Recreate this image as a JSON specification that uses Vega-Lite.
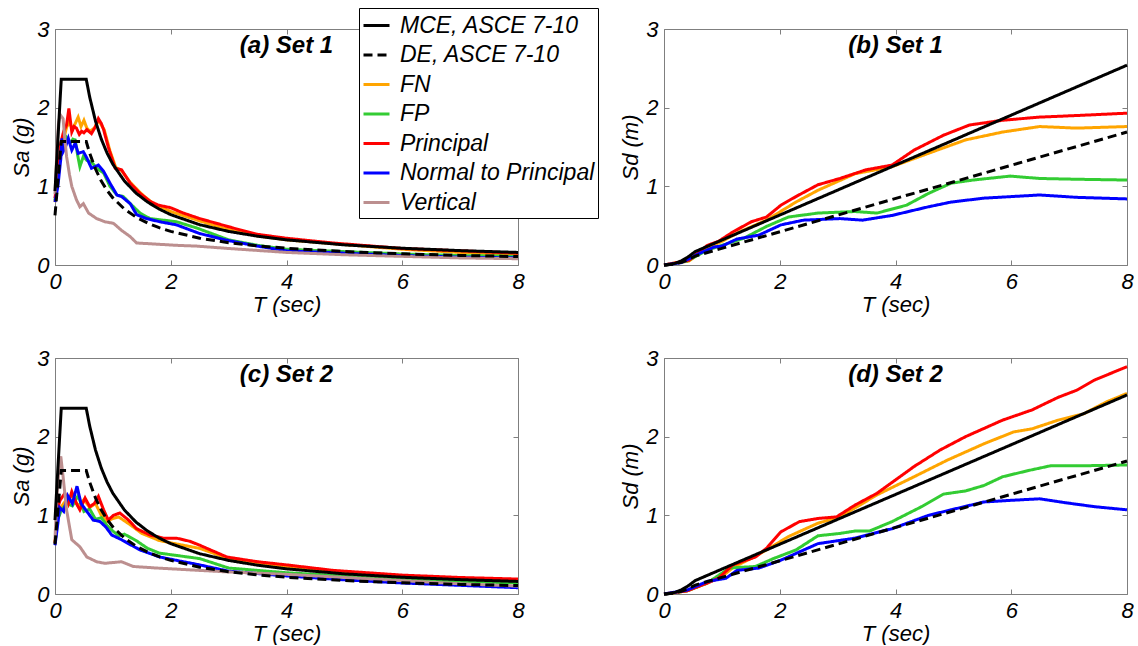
{
"$schema": "https://vega.github.io/schema/vega-lite/v6.json",
"background": "white",
"padding": {"left": 10, "top": 7, "right": 0, "bottom": 0},
"config": {
  "view": {"stroke": "#7f7f7f", "strokeWidth": 1},
  "font": "Liberation Sans",
  "axis": {"labelFont": "Liberation Sans", "labelFontSize": 22, "labelFontStyle": "italic", "labelColor": "black", "titleFont": "Liberation Sans", "titleFontSize": 22, "titleFontStyle": "italic", "titleFontWeight": "normal", "titleColor": "black", "tickColor": "#7f7f7f", "tickSize": -5, "labelPadding": 11, "grid": false, "labelFlush": false, "domain": false},
  "axisX": {"titlePadding": 2},
  "axisY": {"titlePadding": 3},
  "title": {"font": "Liberation Sans", "fontSize": 24, "fontWeight": "bold", "fontStyle": "italic", "color": "black", "frame": "group", "anchor": "middle", "offset": -40, "baseline": "alphabetic"}
},
"datasets": {"d": [
{"p":"a","s":"FN","T":0,"v":0.8},{"p":"a","s":"FN","T":0.05,"v":1.1},{"p":"a","s":"FN","T":0.1,"v":1.45},{"p":"a","s":"FN","T":0.15,"v":1.6},{"p":"a","s":"FN","T":0.2,"v":1.75},{"p":"a","s":"FN","T":0.25,"v":1.82},{"p":"a","s":"FN","T":0.3,"v":1.72},{"p":"a","s":"FN","T":0.35,"v":1.8},{"p":"a","s":"FN","T":0.4,"v":1.88},{"p":"a","s":"FN","T":0.45,"v":1.76},{"p":"a","s":"FN","T":0.5,"v":1.84},{"p":"a","s":"FN","T":0.55,"v":1.74},{"p":"a","s":"FN","T":0.6,"v":1.7},{"p":"a","s":"FN","T":0.68,"v":1.74},{"p":"a","s":"FN","T":0.75,"v":1.84},{"p":"a","s":"FN","T":0.85,"v":1.72},{"p":"a","s":"FN","T":0.95,"v":1.45},{"p":"a","s":"FN","T":1.05,"v":1.24},{"p":"a","s":"FN","T":1.15,"v":1.2},{"p":"a","s":"FN","T":1.3,"v":1.05},{"p":"a","s":"FN","T":1.5,"v":0.9},{"p":"a","s":"FN","T":1.7,"v":0.78},{"p":"a","s":"FN","T":2.0,"v":0.68},{"p":"a","s":"FN","T":2.5,"v":0.56},{"p":"a","s":"FN","T":3,"v":0.45},{"p":"a","s":"FN","T":3.5,"v":0.37},{"p":"a","s":"FN","T":4,"v":0.32},{"p":"a","s":"FN","T":5,"v":0.26},{"p":"a","s":"FN","T":6,"v":0.2},{"p":"a","s":"FN","T":7,"v":0.16},{"p":"a","s":"FN","T":8,"v":0.13},
{"p":"a","s":"FP","T":0,"v":0.82},{"p":"a","s":"FP","T":0.05,"v":1.15},{"p":"a","s":"FP","T":0.1,"v":1.45},{"p":"a","s":"FP","T":0.17,"v":1.65},{"p":"a","s":"FP","T":0.22,"v":1.6},{"p":"a","s":"FP","T":0.26,"v":1.55},{"p":"a","s":"FP","T":0.31,"v":1.6},{"p":"a","s":"FP","T":0.35,"v":1.59},{"p":"a","s":"FP","T":0.39,"v":1.4},{"p":"a","s":"FP","T":0.43,"v":1.25},{"p":"a","s":"FP","T":0.49,"v":1.38},{"p":"a","s":"FP","T":0.55,"v":1.33},{"p":"a","s":"FP","T":0.63,"v":1.31},{"p":"a","s":"FP","T":0.72,"v":1.23},{"p":"a","s":"FP","T":0.84,"v":1.17},{"p":"a","s":"FP","T":0.95,"v":1.0},{"p":"a","s":"FP","T":1.07,"v":0.89},{"p":"a","s":"FP","T":1.18,"v":0.87},{"p":"a","s":"FP","T":1.3,"v":0.78},{"p":"a","s":"FP","T":1.47,"v":0.66},{"p":"a","s":"FP","T":1.64,"v":0.59},{"p":"a","s":"FP","T":1.87,"v":0.57},{"p":"a","s":"FP","T":2.1,"v":0.55},{"p":"a","s":"FP","T":2.45,"v":0.47},{"p":"a","s":"FP","T":3,"v":0.32},{"p":"a","s":"FP","T":3.5,"v":0.25},{"p":"a","s":"FP","T":4,"v":0.2},{"p":"a","s":"FP","T":5,"v":0.17},{"p":"a","s":"FP","T":6,"v":0.14},{"p":"a","s":"FP","T":7,"v":0.12},{"p":"a","s":"FP","T":8,"v":0.11},
{"p":"a","s":"Principal","T":0,"v":0.85},{"p":"a","s":"Principal","T":0.05,"v":1.15},{"p":"a","s":"Principal","T":0.1,"v":1.55},{"p":"a","s":"Principal","T":0.15,"v":1.7},{"p":"a","s":"Principal","T":0.2,"v":1.78},{"p":"a","s":"Principal","T":0.24,"v":1.99},{"p":"a","s":"Principal","T":0.29,"v":1.69},{"p":"a","s":"Principal","T":0.33,"v":1.76},{"p":"a","s":"Principal","T":0.37,"v":1.74},{"p":"a","s":"Principal","T":0.42,"v":1.66},{"p":"a","s":"Principal","T":0.46,"v":1.7},{"p":"a","s":"Principal","T":0.5,"v":1.68},{"p":"a","s":"Principal","T":0.55,"v":1.72},{"p":"a","s":"Principal","T":0.63,"v":1.67},{"p":"a","s":"Principal","T":0.7,"v":1.76},{"p":"a","s":"Principal","T":0.75,"v":1.86},{"p":"a","s":"Principal","T":0.8,"v":1.8},{"p":"a","s":"Principal","T":0.84,"v":1.72},{"p":"a","s":"Principal","T":0.92,"v":1.5},{"p":"a","s":"Principal","T":1.04,"v":1.23},{"p":"a","s":"Principal","T":1.15,"v":1.21},{"p":"a","s":"Principal","T":1.3,"v":1.04},{"p":"a","s":"Principal","T":1.47,"v":0.91},{"p":"a","s":"Principal","T":1.64,"v":0.81},{"p":"a","s":"Principal","T":1.79,"v":0.76},{"p":"a","s":"Principal","T":1.99,"v":0.73},{"p":"a","s":"Principal","T":2.22,"v":0.66},{"p":"a","s":"Principal","T":2.5,"v":0.59},{"p":"a","s":"Principal","T":3.08,"v":0.47},{"p":"a","s":"Principal","T":3.5,"v":0.39},{"p":"a","s":"Principal","T":4,"v":0.34},{"p":"a","s":"Principal","T":4.8,"v":0.28},{"p":"a","s":"Principal","T":6,"v":0.21},{"p":"a","s":"Principal","T":7,"v":0.18},{"p":"a","s":"Principal","T":8,"v":0.15},
{"p":"a","s":"Normal to Principal","T":0,"v":0.8},{"p":"a","s":"Normal to Principal","T":0.05,"v":1.0},{"p":"a","s":"Normal to Principal","T":0.1,"v":1.35},{"p":"a","s":"Normal to Principal","T":0.12,"v":1.61},{"p":"a","s":"Normal to Principal","T":0.14,"v":1.44},{"p":"a","s":"Normal to Principal","T":0.18,"v":1.5},{"p":"a","s":"Normal to Principal","T":0.23,"v":1.61},{"p":"a","s":"Normal to Principal","T":0.29,"v":1.46},{"p":"a","s":"Normal to Principal","T":0.35,"v":1.55},{"p":"a","s":"Normal to Principal","T":0.4,"v":1.42},{"p":"a","s":"Normal to Principal","T":0.49,"v":1.44},{"p":"a","s":"Normal to Principal","T":0.55,"v":1.36},{"p":"a","s":"Normal to Principal","T":0.63,"v":1.23},{"p":"a","s":"Normal to Principal","T":0.75,"v":1.27},{"p":"a","s":"Normal to Principal","T":0.84,"v":1.19},{"p":"a","s":"Normal to Principal","T":0.95,"v":1.04},{"p":"a","s":"Normal to Principal","T":1.07,"v":0.89},{"p":"a","s":"Normal to Principal","T":1.15,"v":0.87},{"p":"a","s":"Normal to Principal","T":1.3,"v":0.78},{"p":"a","s":"Normal to Principal","T":1.41,"v":0.64},{"p":"a","s":"Normal to Principal","T":1.58,"v":0.59},{"p":"a","s":"Normal to Principal","T":1.81,"v":0.55},{"p":"a","s":"Normal to Principal","T":2.1,"v":0.51},{"p":"a","s":"Normal to Principal","T":2.5,"v":0.4},{"p":"a","s":"Normal to Principal","T":3,"v":0.31},{"p":"a","s":"Normal to Principal","T":3.5,"v":0.24},{"p":"a","s":"Normal to Principal","T":4,"v":0.18},{"p":"a","s":"Normal to Principal","T":5,"v":0.15},{"p":"a","s":"Normal to Principal","T":6,"v":0.12},{"p":"a","s":"Normal to Principal","T":7,"v":0.1},{"p":"a","s":"Normal to Principal","T":8,"v":0.09},
{"p":"a","s":"Vertical","T":0,"v":0.9},{"p":"a","s":"Vertical","T":0.03,"v":1.4},{"p":"a","s":"Vertical","T":0.06,"v":1.8},{"p":"a","s":"Vertical","T":0.09,"v":1.91},{"p":"a","s":"Vertical","T":0.14,"v":1.86},{"p":"a","s":"Vertical","T":0.17,"v":1.6},{"p":"a","s":"Vertical","T":0.2,"v":1.38},{"p":"a","s":"Vertical","T":0.25,"v":1.15},{"p":"a","s":"Vertical","T":0.29,"v":1.0},{"p":"a","s":"Vertical","T":0.37,"v":0.83},{"p":"a","s":"Vertical","T":0.43,"v":0.74},{"p":"a","s":"Vertical","T":0.49,"v":0.78},{"p":"a","s":"Vertical","T":0.58,"v":0.66},{"p":"a","s":"Vertical","T":0.72,"v":0.59},{"p":"a","s":"Vertical","T":0.86,"v":0.55},{"p":"a","s":"Vertical","T":1.01,"v":0.53},{"p":"a","s":"Vertical","T":1.15,"v":0.44},{"p":"a","s":"Vertical","T":1.3,"v":0.36},{"p":"a","s":"Vertical","T":1.41,"v":0.28},{"p":"a","s":"Vertical","T":1.64,"v":0.27},{"p":"a","s":"Vertical","T":2.1,"v":0.25},{"p":"a","s":"Vertical","T":2.45,"v":0.24},{"p":"a","s":"Vertical","T":3,"v":0.21},{"p":"a","s":"Vertical","T":4,"v":0.16},{"p":"a","s":"Vertical","T":5,"v":0.13},{"p":"a","s":"Vertical","T":6,"v":0.11},{"p":"a","s":"Vertical","T":7,"v":0.09},{"p":"a","s":"Vertical","T":8,"v":0.08},
{"p":"a","s":"MCE, ASCE 7-10","T":0,"v":0.94},{"p":"a","s":"MCE, ASCE 7-10","T":0.108,"v":2.36},{"p":"a","s":"MCE, ASCE 7-10","T":0.54,"v":2.36},{"p":"a","s":"MCE, ASCE 7-10","T":0.6,"v":2.133},{"p":"a","s":"MCE, ASCE 7-10","T":0.7,"v":1.829},{"p":"a","s":"MCE, ASCE 7-10","T":0.8,"v":1.6},{"p":"a","s":"MCE, ASCE 7-10","T":0.9,"v":1.422},{"p":"a","s":"MCE, ASCE 7-10","T":1.0,"v":1.28},{"p":"a","s":"MCE, ASCE 7-10","T":1.2,"v":1.067},{"p":"a","s":"MCE, ASCE 7-10","T":1.4,"v":0.914},{"p":"a","s":"MCE, ASCE 7-10","T":1.6,"v":0.8},{"p":"a","s":"MCE, ASCE 7-10","T":1.8,"v":0.711},{"p":"a","s":"MCE, ASCE 7-10","T":2,"v":0.64},{"p":"a","s":"MCE, ASCE 7-10","T":2.5,"v":0.512},{"p":"a","s":"MCE, ASCE 7-10","T":3,"v":0.427},{"p":"a","s":"MCE, ASCE 7-10","T":3.5,"v":0.366},{"p":"a","s":"MCE, ASCE 7-10","T":4,"v":0.32},{"p":"a","s":"MCE, ASCE 7-10","T":5,"v":0.256},{"p":"a","s":"MCE, ASCE 7-10","T":6,"v":0.213},{"p":"a","s":"MCE, ASCE 7-10","T":7,"v":0.183},{"p":"a","s":"MCE, ASCE 7-10","T":8,"v":0.16},
{"p":"a","s":"DE, ASCE 7-10","T":0,"v":0.63},{"p":"a","s":"DE, ASCE 7-10","T":0.108,"v":1.57},{"p":"a","s":"DE, ASCE 7-10","T":0.54,"v":1.57},{"p":"a","s":"DE, ASCE 7-10","T":0.6,"v":1.42},{"p":"a","s":"DE, ASCE 7-10","T":0.7,"v":1.22},{"p":"a","s":"DE, ASCE 7-10","T":0.8,"v":1.066},{"p":"a","s":"DE, ASCE 7-10","T":0.9,"v":0.948},{"p":"a","s":"DE, ASCE 7-10","T":1.0,"v":0.853},{"p":"a","s":"DE, ASCE 7-10","T":1.2,"v":0.711},{"p":"a","s":"DE, ASCE 7-10","T":1.4,"v":0.609},{"p":"a","s":"DE, ASCE 7-10","T":1.6,"v":0.533},{"p":"a","s":"DE, ASCE 7-10","T":1.8,"v":0.474},{"p":"a","s":"DE, ASCE 7-10","T":2,"v":0.427},{"p":"a","s":"DE, ASCE 7-10","T":2.5,"v":0.341},{"p":"a","s":"DE, ASCE 7-10","T":3,"v":0.284},{"p":"a","s":"DE, ASCE 7-10","T":3.5,"v":0.244},{"p":"a","s":"DE, ASCE 7-10","T":4,"v":0.213},{"p":"a","s":"DE, ASCE 7-10","T":5,"v":0.171},{"p":"a","s":"DE, ASCE 7-10","T":6,"v":0.142},{"p":"a","s":"DE, ASCE 7-10","T":7,"v":0.122},{"p":"a","s":"DE, ASCE 7-10","T":8,"v":0.107},

{"p":"b","s":"FN","T":0,"v":0},{"p":"b","s":"FN","T":0.43,"v":0.05},{"p":"b","s":"FN","T":0.75,"v":0.22},{"p":"b","s":"FN","T":1.0,"v":0.3},{"p":"b","s":"FN","T":1.3,"v":0.42},{"p":"b","s":"FN","T":1.77,"v":0.57},{"p":"b","s":"FN","T":2.28,"v":0.8},{"p":"b","s":"FN","T":2.66,"v":0.95},{"p":"b","s":"FN","T":3.3,"v":1.16},{"p":"b","s":"FN","T":3.94,"v":1.25},{"p":"b","s":"FN","T":4.57,"v":1.42},{"p":"b","s":"FN","T":5.21,"v":1.59},{"p":"b","s":"FN","T":5.85,"v":1.69},{"p":"b","s":"FN","T":6.49,"v":1.76},{"p":"b","s":"FN","T":7.13,"v":1.74},{"p":"b","s":"FN","T":8,"v":1.76},
{"p":"b","s":"FP","T":0,"v":0},{"p":"b","s":"FP","T":0.4,"v":0.05},{"p":"b","s":"FP","T":0.75,"v":0.19},{"p":"b","s":"FP","T":1.38,"v":0.34},{"p":"b","s":"FP","T":1.77,"v":0.49},{"p":"b","s":"FP","T":2.15,"v":0.61},{"p":"b","s":"FP","T":2.66,"v":0.66},{"p":"b","s":"FP","T":3.3,"v":0.68},{"p":"b","s":"FP","T":3.68,"v":0.66},{"p":"b","s":"FP","T":4.19,"v":0.76},{"p":"b","s":"FP","T":4.57,"v":0.91},{"p":"b","s":"FP","T":4.96,"v":1.04},{"p":"b","s":"FP","T":5.34,"v":1.08},{"p":"b","s":"FP","T":5.98,"v":1.13},{"p":"b","s":"FP","T":6.49,"v":1.1},{"p":"b","s":"FP","T":7.13,"v":1.09},{"p":"b","s":"FP","T":8,"v":1.08},
{"p":"b","s":"Principal","T":0,"v":0},{"p":"b","s":"Principal","T":0.43,"v":0.06},{"p":"b","s":"Principal","T":0.75,"v":0.25},{"p":"b","s":"Principal","T":0.94,"v":0.3},{"p":"b","s":"Principal","T":1.19,"v":0.42},{"p":"b","s":"Principal","T":1.51,"v":0.55},{"p":"b","s":"Principal","T":1.77,"v":0.61},{"p":"b","s":"Principal","T":2.02,"v":0.76},{"p":"b","s":"Principal","T":2.28,"v":0.87},{"p":"b","s":"Principal","T":2.66,"v":1.02},{"p":"b","s":"Principal","T":3.04,"v":1.1},{"p":"b","s":"Principal","T":3.49,"v":1.21},{"p":"b","s":"Principal","T":3.94,"v":1.27},{"p":"b","s":"Principal","T":4.32,"v":1.46},{"p":"b","s":"Principal","T":4.83,"v":1.65},{"p":"b","s":"Principal","T":5.28,"v":1.78},{"p":"b","s":"Principal","T":5.85,"v":1.84},{"p":"b","s":"Principal","T":6.49,"v":1.88},{"p":"b","s":"Principal","T":7.13,"v":1.9},{"p":"b","s":"Principal","T":8,"v":1.93},
{"p":"b","s":"Normal to Principal","T":0,"v":0},{"p":"b","s":"Normal to Principal","T":0.3,"v":0.03},{"p":"b","s":"Normal to Principal","T":0.62,"v":0.15},{"p":"b","s":"Normal to Principal","T":0.87,"v":0.23},{"p":"b","s":"Normal to Principal","T":1.0,"v":0.24},{"p":"b","s":"Normal to Principal","T":1.26,"v":0.33},{"p":"b","s":"Normal to Principal","T":1.64,"v":0.38},{"p":"b","s":"Normal to Principal","T":2.02,"v":0.51},{"p":"b","s":"Normal to Principal","T":2.41,"v":0.57},{"p":"b","s":"Normal to Principal","T":3.04,"v":0.59},{"p":"b","s":"Normal to Principal","T":3.43,"v":0.57},{"p":"b","s":"Normal to Principal","T":3.94,"v":0.63},{"p":"b","s":"Normal to Principal","T":4.57,"v":0.74},{"p":"b","s":"Normal to Principal","T":4.96,"v":0.8},{"p":"b","s":"Normal to Principal","T":5.53,"v":0.85},{"p":"b","s":"Normal to Principal","T":6.49,"v":0.89},{"p":"b","s":"Normal to Principal","T":7.13,"v":0.86},{"p":"b","s":"Normal to Principal","T":8,"v":0.84},
{"p":"b","s":"MCE, ASCE 7-10","T":0,"v":0},{"p":"b","s":"MCE, ASCE 7-10","T":0.05,"v":0.001},{"p":"b","s":"MCE, ASCE 7-10","T":0.108,"v":0.007},{"p":"b","s":"MCE, ASCE 7-10","T":0.2,"v":0.023},{"p":"b","s":"MCE, ASCE 7-10","T":0.3,"v":0.053},{"p":"b","s":"MCE, ASCE 7-10","T":0.4,"v":0.094},{"p":"b","s":"MCE, ASCE 7-10","T":0.54,"v":0.171},{"p":"b","s":"MCE, ASCE 7-10","T":8,"v":2.54},
{"p":"b","s":"DE, ASCE 7-10","T":0,"v":0},{"p":"b","s":"DE, ASCE 7-10","T":0.108,"v":0.005},{"p":"b","s":"DE, ASCE 7-10","T":0.2,"v":0.016},{"p":"b","s":"DE, ASCE 7-10","T":0.3,"v":0.035},{"p":"b","s":"DE, ASCE 7-10","T":0.4,"v":0.063},{"p":"b","s":"DE, ASCE 7-10","T":0.54,"v":0.114},{"p":"b","s":"DE, ASCE 7-10","T":8,"v":1.69},

{"p":"c","s":"FN","T":0,"v":0.65},{"p":"c","s":"FN","T":0.05,"v":1.0},{"p":"c","s":"FN","T":0.1,"v":1.1},{"p":"c","s":"FN","T":0.2,"v":1.2},{"p":"c","s":"FN","T":0.3,"v":1.25},{"p":"c","s":"FN","T":0.4,"v":1.12},{"p":"c","s":"FN","T":0.5,"v":1.2},{"p":"c","s":"FN","T":0.6,"v":1.1},{"p":"c","s":"FN","T":0.7,"v":1.15},{"p":"c","s":"FN","T":0.8,"v":1.0},{"p":"c","s":"FN","T":0.9,"v":0.92},{"p":"c","s":"FN","T":1.0,"v":0.96},{"p":"c","s":"FN","T":1.1,"v":0.98},{"p":"c","s":"FN","T":1.3,"v":0.88},{"p":"c","s":"FN","T":1.5,"v":0.77},{"p":"c","s":"FN","T":1.8,"v":0.68},{"p":"c","s":"FN","T":2.0,"v":0.65},{"p":"c","s":"FN","T":2.5,"v":0.58},{"p":"c","s":"FN","T":3,"v":0.45},{"p":"c","s":"FN","T":3.5,"v":0.39},{"p":"c","s":"FN","T":4,"v":0.35},{"p":"c","s":"FN","T":5,"v":0.28},{"p":"c","s":"FN","T":6,"v":0.22},{"p":"c","s":"FN","T":7,"v":0.19},{"p":"c","s":"FN","T":8,"v":0.17},
{"p":"c","s":"FP","T":0,"v":0.65},{"p":"c","s":"FP","T":0.05,"v":0.95},{"p":"c","s":"FP","T":0.1,"v":1.05},{"p":"c","s":"FP","T":0.2,"v":1.15},{"p":"c","s":"FP","T":0.3,"v":1.12},{"p":"c","s":"FP","T":0.4,"v":1.25},{"p":"c","s":"FP","T":0.5,"v":1.05},{"p":"c","s":"FP","T":0.6,"v":1.08},{"p":"c","s":"FP","T":0.7,"v":0.95},{"p":"c","s":"FP","T":0.8,"v":0.97},{"p":"c","s":"FP","T":0.9,"v":0.87},{"p":"c","s":"FP","T":1.0,"v":0.8},{"p":"c","s":"FP","T":1.1,"v":0.74},{"p":"c","s":"FP","T":1.2,"v":0.76},{"p":"c","s":"FP","T":1.4,"v":0.68},{"p":"c","s":"FP","T":1.6,"v":0.58},{"p":"c","s":"FP","T":1.8,"v":0.52},{"p":"c","s":"FP","T":2.0,"v":0.5},{"p":"c","s":"FP","T":2.5,"v":0.45},{"p":"c","s":"FP","T":3,"v":0.33},{"p":"c","s":"FP","T":4,"v":0.27},{"p":"c","s":"FP","T":5,"v":0.23},{"p":"c","s":"FP","T":6,"v":0.19},{"p":"c","s":"FP","T":7,"v":0.16},{"p":"c","s":"FP","T":8,"v":0.14},
{"p":"c","s":"Principal","T":0,"v":0.65},{"p":"c","s":"Principal","T":0.05,"v":1.1},{"p":"c","s":"Principal","T":0.086,"v":1.19},{"p":"c","s":"Principal","T":0.17,"v":1.28},{"p":"c","s":"Principal","T":0.23,"v":1.15},{"p":"c","s":"Principal","T":0.29,"v":1.3},{"p":"c","s":"Principal","T":0.37,"v":1.15},{"p":"c","s":"Principal","T":0.43,"v":1.07},{"p":"c","s":"Principal","T":0.52,"v":1.22},{"p":"c","s":"Principal","T":0.6,"v":1.11},{"p":"c","s":"Principal","T":0.68,"v":1.15},{"p":"c","s":"Principal","T":0.75,"v":1.24},{"p":"c","s":"Principal","T":0.84,"v":1.07},{"p":"c","s":"Principal","T":0.92,"v":0.94},{"p":"c","s":"Principal","T":1.01,"v":1.0},{"p":"c","s":"Principal","T":1.12,"v":1.03},{"p":"c","s":"Principal","T":1.27,"v":0.94},{"p":"c","s":"Principal","T":1.41,"v":0.83},{"p":"c","s":"Principal","T":1.64,"v":0.75},{"p":"c","s":"Principal","T":1.87,"v":0.71},{"p":"c","s":"Principal","T":2.1,"v":0.71},{"p":"c","s":"Principal","T":2.33,"v":0.67},{"p":"c","s":"Principal","T":2.5,"v":0.62},{"p":"c","s":"Principal","T":2.97,"v":0.47},{"p":"c","s":"Principal","T":3.5,"v":0.41},{"p":"c","s":"Principal","T":4,"v":0.37},{"p":"c","s":"Principal","T":4.81,"v":0.3},{"p":"c","s":"Principal","T":6,"v":0.24},{"p":"c","s":"Principal","T":7,"v":0.21},{"p":"c","s":"Principal","T":8,"v":0.19},
{"p":"c","s":"Normal to Principal","T":0,"v":0.62},{"p":"c","s":"Normal to Principal","T":0.05,"v":0.9},{"p":"c","s":"Normal to Principal","T":0.08,"v":1.1},{"p":"c","s":"Normal to Principal","T":0.15,"v":1.05},{"p":"c","s":"Normal to Principal","T":0.22,"v":1.25},{"p":"c","s":"Normal to Principal","T":0.3,"v":1.15},{"p":"c","s":"Normal to Principal","T":0.38,"v":1.37},{"p":"c","s":"Normal to Principal","T":0.45,"v":1.15},{"p":"c","s":"Normal to Principal","T":0.55,"v":1.05},{"p":"c","s":"Normal to Principal","T":0.66,"v":0.94},{"p":"c","s":"Normal to Principal","T":0.78,"v":0.92},{"p":"c","s":"Normal to Principal","T":0.88,"v":0.85},{"p":"c","s":"Normal to Principal","T":0.98,"v":0.75},{"p":"c","s":"Normal to Principal","T":1.15,"v":0.69},{"p":"c","s":"Normal to Principal","T":1.27,"v":0.64},{"p":"c","s":"Normal to Principal","T":1.47,"v":0.56},{"p":"c","s":"Normal to Principal","T":1.81,"v":0.47},{"p":"c","s":"Normal to Principal","T":2.22,"v":0.41},{"p":"c","s":"Normal to Principal","T":2.5,"v":0.37},{"p":"c","s":"Normal to Principal","T":3,"v":0.29},{"p":"c","s":"Normal to Principal","T":4,"v":0.23},{"p":"c","s":"Normal to Principal","T":5,"v":0.18},{"p":"c","s":"Normal to Principal","T":6,"v":0.14},{"p":"c","s":"Normal to Principal","T":7,"v":0.11},{"p":"c","s":"Normal to Principal","T":8,"v":0.08},
{"p":"c","s":"Vertical","T":0,"v":0.7},{"p":"c","s":"Vertical","T":0.03,"v":1.19},{"p":"c","s":"Vertical","T":0.07,"v":1.6},{"p":"c","s":"Vertical","T":0.1,"v":1.75},{"p":"c","s":"Vertical","T":0.14,"v":1.49},{"p":"c","s":"Vertical","T":0.2,"v":1.07},{"p":"c","s":"Vertical","T":0.29,"v":0.69},{"p":"c","s":"Vertical","T":0.43,"v":0.6},{"p":"c","s":"Vertical","T":0.55,"v":0.47},{"p":"c","s":"Vertical","T":0.72,"v":0.41},{"p":"c","s":"Vertical","T":0.86,"v":0.39},{"p":"c","s":"Vertical","T":1.0,"v":0.4},{"p":"c","s":"Vertical","T":1.15,"v":0.41},{"p":"c","s":"Vertical","T":1.35,"v":0.35},{"p":"c","s":"Vertical","T":1.76,"v":0.33},{"p":"c","s":"Vertical","T":2.5,"v":0.3},{"p":"c","s":"Vertical","T":3,"v":0.28},{"p":"c","s":"Vertical","T":4,"v":0.25},{"p":"c","s":"Vertical","T":5,"v":0.21},{"p":"c","s":"Vertical","T":6,"v":0.17},{"p":"c","s":"Vertical","T":7,"v":0.13},{"p":"c","s":"Vertical","T":8,"v":0.1},
{"p":"c","s":"MCE, ASCE 7-10","T":0,"v":0.94},{"p":"c","s":"MCE, ASCE 7-10","T":0.108,"v":2.36},{"p":"c","s":"MCE, ASCE 7-10","T":0.54,"v":2.36},{"p":"c","s":"MCE, ASCE 7-10","T":0.6,"v":2.133},{"p":"c","s":"MCE, ASCE 7-10","T":0.7,"v":1.829},{"p":"c","s":"MCE, ASCE 7-10","T":0.8,"v":1.6},{"p":"c","s":"MCE, ASCE 7-10","T":0.9,"v":1.422},{"p":"c","s":"MCE, ASCE 7-10","T":1.0,"v":1.28},{"p":"c","s":"MCE, ASCE 7-10","T":1.2,"v":1.067},{"p":"c","s":"MCE, ASCE 7-10","T":1.4,"v":0.914},{"p":"c","s":"MCE, ASCE 7-10","T":1.6,"v":0.8},{"p":"c","s":"MCE, ASCE 7-10","T":1.8,"v":0.711},{"p":"c","s":"MCE, ASCE 7-10","T":2,"v":0.64},{"p":"c","s":"MCE, ASCE 7-10","T":2.5,"v":0.512},{"p":"c","s":"MCE, ASCE 7-10","T":3,"v":0.427},{"p":"c","s":"MCE, ASCE 7-10","T":3.5,"v":0.366},{"p":"c","s":"MCE, ASCE 7-10","T":4,"v":0.32},{"p":"c","s":"MCE, ASCE 7-10","T":5,"v":0.256},{"p":"c","s":"MCE, ASCE 7-10","T":6,"v":0.213},{"p":"c","s":"MCE, ASCE 7-10","T":7,"v":0.183},{"p":"c","s":"MCE, ASCE 7-10","T":8,"v":0.16},
{"p":"c","s":"DE, ASCE 7-10","T":0,"v":0.63},{"p":"c","s":"DE, ASCE 7-10","T":0.108,"v":1.57},{"p":"c","s":"DE, ASCE 7-10","T":0.54,"v":1.57},{"p":"c","s":"DE, ASCE 7-10","T":0.6,"v":1.42},{"p":"c","s":"DE, ASCE 7-10","T":0.7,"v":1.22},{"p":"c","s":"DE, ASCE 7-10","T":0.8,"v":1.066},{"p":"c","s":"DE, ASCE 7-10","T":0.9,"v":0.948},{"p":"c","s":"DE, ASCE 7-10","T":1.0,"v":0.853},{"p":"c","s":"DE, ASCE 7-10","T":1.2,"v":0.711},{"p":"c","s":"DE, ASCE 7-10","T":1.4,"v":0.609},{"p":"c","s":"DE, ASCE 7-10","T":1.6,"v":0.533},{"p":"c","s":"DE, ASCE 7-10","T":1.8,"v":0.474},{"p":"c","s":"DE, ASCE 7-10","T":2,"v":0.427},{"p":"c","s":"DE, ASCE 7-10","T":2.5,"v":0.341},{"p":"c","s":"DE, ASCE 7-10","T":3,"v":0.284},{"p":"c","s":"DE, ASCE 7-10","T":3.5,"v":0.244},{"p":"c","s":"DE, ASCE 7-10","T":4,"v":0.213},{"p":"c","s":"DE, ASCE 7-10","T":5,"v":0.171},{"p":"c","s":"DE, ASCE 7-10","T":6,"v":0.142},{"p":"c","s":"DE, ASCE 7-10","T":7,"v":0.122},{"p":"c","s":"DE, ASCE 7-10","T":8,"v":0.107},

{"p":"d","s":"FN","T":0,"v":0},{"p":"d","s":"FN","T":0.4,"v":0.04},{"p":"d","s":"FN","T":0.75,"v":0.14},{"p":"d","s":"FN","T":1.0,"v":0.22},{"p":"d","s":"FN","T":1.2,"v":0.34},{"p":"d","s":"FN","T":1.5,"v":0.45},{"p":"d","s":"FN","T":1.77,"v":0.56},{"p":"d","s":"FN","T":2.15,"v":0.73},{"p":"d","s":"FN","T":2.66,"v":0.9},{"p":"d","s":"FN","T":3.04,"v":0.98},{"p":"d","s":"FN","T":3.68,"v":1.26},{"p":"d","s":"FN","T":4.32,"v":1.49},{"p":"d","s":"FN","T":4.89,"v":1.7},{"p":"d","s":"FN","T":5.53,"v":1.91},{"p":"d","s":"FN","T":6.04,"v":2.06},{"p":"d","s":"FN","T":6.36,"v":2.1},{"p":"d","s":"FN","T":6.81,"v":2.21},{"p":"d","s":"FN","T":7.25,"v":2.29},{"p":"d","s":"FN","T":7.64,"v":2.44},{"p":"d","s":"FN","T":8,"v":2.55},
{"p":"d","s":"FP","T":0,"v":0},{"p":"d","s":"FP","T":0.4,"v":0.04},{"p":"d","s":"FP","T":0.75,"v":0.14},{"p":"d","s":"FP","T":1.13,"v":0.33},{"p":"d","s":"FP","T":1.58,"v":0.35},{"p":"d","s":"FP","T":1.89,"v":0.45},{"p":"d","s":"FP","T":2.28,"v":0.56},{"p":"d","s":"FP","T":2.66,"v":0.74},{"p":"d","s":"FP","T":3.04,"v":0.77},{"p":"d","s":"FP","T":3.3,"v":0.8},{"p":"d","s":"FP","T":3.55,"v":0.8},{"p":"d","s":"FP","T":3.94,"v":0.92},{"p":"d","s":"FP","T":4.45,"v":1.11},{"p":"d","s":"FP","T":4.83,"v":1.27},{"p":"d","s":"FP","T":5.21,"v":1.31},{"p":"d","s":"FP","T":5.53,"v":1.38},{"p":"d","s":"FP","T":5.85,"v":1.49},{"p":"d","s":"FP","T":6.3,"v":1.57},{"p":"d","s":"FP","T":6.68,"v":1.63},{"p":"d","s":"FP","T":7.25,"v":1.63},{"p":"d","s":"FP","T":8,"v":1.64},
{"p":"d","s":"Principal","T":0,"v":0},{"p":"d","s":"Principal","T":0.4,"v":0.04},{"p":"d","s":"Principal","T":0.75,"v":0.14},{"p":"d","s":"Principal","T":0.94,"v":0.2},{"p":"d","s":"Principal","T":1.19,"v":0.37},{"p":"d","s":"Principal","T":1.58,"v":0.47},{"p":"d","s":"Principal","T":1.77,"v":0.58},{"p":"d","s":"Principal","T":2.02,"v":0.79},{"p":"d","s":"Principal","T":2.34,"v":0.92},{"p":"d","s":"Principal","T":2.66,"v":0.96},{"p":"d","s":"Principal","T":2.98,"v":0.98},{"p":"d","s":"Principal","T":3.3,"v":1.13},{"p":"d","s":"Principal","T":3.68,"v":1.28},{"p":"d","s":"Principal","T":4.0,"v":1.45},{"p":"d","s":"Principal","T":4.32,"v":1.62},{"p":"d","s":"Principal","T":4.77,"v":1.83},{"p":"d","s":"Principal","T":5.21,"v":2.0},{"p":"d","s":"Principal","T":5.85,"v":2.21},{"p":"d","s":"Principal","T":6.36,"v":2.34},{"p":"d","s":"Principal","T":6.81,"v":2.5},{"p":"d","s":"Principal","T":7.13,"v":2.59},{"p":"d","s":"Principal","T":7.44,"v":2.72},{"p":"d","s":"Principal","T":8,"v":2.89},
{"p":"d","s":"Normal to Principal","T":0,"v":0},{"p":"d","s":"Normal to Principal","T":0.4,"v":0.05},{"p":"d","s":"Normal to Principal","T":0.75,"v":0.16},{"p":"d","s":"Normal to Principal","T":1.07,"v":0.2},{"p":"d","s":"Normal to Principal","T":1.26,"v":0.3},{"p":"d","s":"Normal to Principal","T":1.64,"v":0.33},{"p":"d","s":"Normal to Principal","T":2.02,"v":0.43},{"p":"d","s":"Normal to Principal","T":2.66,"v":0.64},{"p":"d","s":"Normal to Principal","T":3.3,"v":0.71},{"p":"d","s":"Normal to Principal","T":3.94,"v":0.83},{"p":"d","s":"Normal to Principal","T":4.57,"v":1.0},{"p":"d","s":"Normal to Principal","T":4.96,"v":1.07},{"p":"d","s":"Normal to Principal","T":5.53,"v":1.17},{"p":"d","s":"Normal to Principal","T":5.98,"v":1.19},{"p":"d","s":"Normal to Principal","T":6.49,"v":1.21},{"p":"d","s":"Normal to Principal","T":6.94,"v":1.16},{"p":"d","s":"Normal to Principal","T":7.44,"v":1.11},{"p":"d","s":"Normal to Principal","T":8,"v":1.07},
{"p":"d","s":"MCE, ASCE 7-10","T":0,"v":0},{"p":"d","s":"MCE, ASCE 7-10","T":0.05,"v":0.001},{"p":"d","s":"MCE, ASCE 7-10","T":0.108,"v":0.007},{"p":"d","s":"MCE, ASCE 7-10","T":0.2,"v":0.023},{"p":"d","s":"MCE, ASCE 7-10","T":0.3,"v":0.053},{"p":"d","s":"MCE, ASCE 7-10","T":0.4,"v":0.094},{"p":"d","s":"MCE, ASCE 7-10","T":0.54,"v":0.171},{"p":"d","s":"MCE, ASCE 7-10","T":8,"v":2.53},
{"p":"d","s":"DE, ASCE 7-10","T":0,"v":0},{"p":"d","s":"DE, ASCE 7-10","T":0.108,"v":0.005},{"p":"d","s":"DE, ASCE 7-10","T":0.2,"v":0.016},{"p":"d","s":"DE, ASCE 7-10","T":0.3,"v":0.035},{"p":"d","s":"DE, ASCE 7-10","T":0.4,"v":0.063},{"p":"d","s":"DE, ASCE 7-10","T":0.54,"v":0.114},{"p":"d","s":"DE, ASCE 7-10","T":8,"v":1.69}
]},
"data": {"name": "d"},
"columns": 2,
"spacing": {"row": 30, "column": 94},
"concat": [
 {"width": 463, "height": 236, "title": {"text": "(a) Set 1"},
  "transform": [{"filter": "datum.p === 'a'"}],
  "layer": [
   {"mark": {"type": "line", "opacity": 0},
    "encoding": {
     "x": {"field": "T", "type": "quantitative", "scale": {"domain": [0, 8]}, "axis": {"orient": "top", "labels": false, "title": null, "values": [0, 2, 4, 6, 8]}},
     "y": {"field": "v", "type": "quantitative", "scale": {"domain": [0, 3]}, "axis": {"orient": "right", "labels": false, "title": null, "values": [0, 1, 2, 3]}}}},
   {"mark": {"type": "line", "strokeWidth": 3},
    "encoding": {
     "x": {"field": "T", "type": "quantitative", "scale": {"domain": [0, 8]}, "axis": {"orient": "bottom", "title": "T (sec)", "values": [0, 2, 4, 6, 8]}},
     "y": {"field": "v", "type": "quantitative", "scale": {"domain": [0, 3]}, "axis": {"orient": "left", "title": "Sa (g)", "values": [0, 1, 2, 3]}},
     "color": {"field": "s", "type": "nominal",
       "scale": {"domain": ["MCE, ASCE 7-10", "DE, ASCE 7-10", "FN", "FP", "Principal", "Normal to Principal", "Vertical"], "range": ["#000000", "#000000", "#FFA500", "#33CC33", "#FF0000", "#0000FF", "#BC8F8F"]},
       "legend": {"orient": "none", "legendX": 304, "legendY": -21, "title": null, "symbolType": "stroke", "symbolSize": 676, "symbolStrokeWidth": 3, "labelFont": "Liberation Sans", "labelFontSize": 23, "labelFontStyle": "italic", "labelColor": "black", "labelLimit": 400, "strokeColor": "black", "fillColor": "white", "padding": 3, "rowPadding": 2.5, "labelOffset": 9}},
     "strokeDash": {"field": "s", "type": "nominal",
       "scale": {"domain": ["MCE, ASCE 7-10", "DE, ASCE 7-10", "FN", "FP", "Principal", "Normal to Principal", "Vertical"], "range": [[1, 0], [9, 5], [1, 0], [1, 0], [1, 0], [1, 0], [1, 0]]}}}}
  ],
  "resolve": {"axis": {"x": "independent", "y": "independent"}}},
 {"width": 463, "height": 236, "title": {"text": "(b) Set 1"},
  "transform": [{"filter": "datum.p === 'b'"}],
  "layer": [
   {"mark": {"type": "line", "opacity": 0},
    "encoding": {
     "x": {"field": "T", "type": "quantitative", "scale": {"domain": [0, 8]}, "axis": {"orient": "top", "labels": false, "title": null, "values": [0, 2, 4, 6, 8]}},
     "y": {"field": "v", "type": "quantitative", "scale": {"domain": [0, 3]}, "axis": {"orient": "right", "labels": false, "title": null, "values": [0, 1, 2, 3]}}}},
   {"mark": {"type": "line", "strokeWidth": 3},
    "encoding": {
     "x": {"field": "T", "type": "quantitative", "scale": {"domain": [0, 8]}, "axis": {"orient": "bottom", "title": "T (sec)", "values": [0, 2, 4, 6, 8]}},
     "y": {"field": "v", "type": "quantitative", "scale": {"domain": [0, 3]}, "axis": {"orient": "left", "title": "Sd (m)", "values": [0, 1, 2, 3]}},
     "color": {"field": "s", "type": "nominal",
       "scale": {"domain": ["MCE, ASCE 7-10", "DE, ASCE 7-10", "FN", "FP", "Principal", "Normal to Principal", "Vertical"], "range": ["#000000", "#000000", "#FFA500", "#33CC33", "#FF0000", "#0000FF", "#BC8F8F"]}, "legend": null},
     "strokeDash": {"field": "s", "type": "nominal", "legend": null,
       "scale": {"domain": ["MCE, ASCE 7-10", "DE, ASCE 7-10", "FN", "FP", "Principal", "Normal to Principal", "Vertical"], "range": [[1, 0], [9, 5], [1, 0], [1, 0], [1, 0], [1, 0], [1, 0]]}}}}
  ],
  "resolve": {"axis": {"x": "independent", "y": "independent"}}},
 {"width": 463, "height": 236, "title": {"text": "(c) Set 2"},
  "transform": [{"filter": "datum.p === 'c'"}],
  "layer": [
   {"mark": {"type": "line", "opacity": 0},
    "encoding": {
     "x": {"field": "T", "type": "quantitative", "scale": {"domain": [0, 8]}, "axis": {"orient": "top", "labels": false, "title": null, "values": [0, 2, 4, 6, 8]}},
     "y": {"field": "v", "type": "quantitative", "scale": {"domain": [0, 3]}, "axis": {"orient": "right", "labels": false, "title": null, "values": [0, 1, 2, 3]}}}},
   {"mark": {"type": "line", "strokeWidth": 3},
    "encoding": {
     "x": {"field": "T", "type": "quantitative", "scale": {"domain": [0, 8]}, "axis": {"orient": "bottom", "title": "T (sec)", "values": [0, 2, 4, 6, 8]}},
     "y": {"field": "v", "type": "quantitative", "scale": {"domain": [0, 3]}, "axis": {"orient": "left", "title": "Sa (g)", "values": [0, 1, 2, 3]}},
     "color": {"field": "s", "type": "nominal",
       "scale": {"domain": ["MCE, ASCE 7-10", "DE, ASCE 7-10", "FN", "FP", "Principal", "Normal to Principal", "Vertical"], "range": ["#000000", "#000000", "#FFA500", "#33CC33", "#FF0000", "#0000FF", "#BC8F8F"]}, "legend": null},
     "strokeDash": {"field": "s", "type": "nominal", "legend": null,
       "scale": {"domain": ["MCE, ASCE 7-10", "DE, ASCE 7-10", "FN", "FP", "Principal", "Normal to Principal", "Vertical"], "range": [[1, 0], [9, 5], [1, 0], [1, 0], [1, 0], [1, 0], [1, 0]]}}}}
  ],
  "resolve": {"axis": {"x": "independent", "y": "independent"}}},
 {"width": 463, "height": 236, "title": {"text": "(d) Set 2"},
  "transform": [{"filter": "datum.p === 'd'"}],
  "layer": [
   {"mark": {"type": "line", "opacity": 0},
    "encoding": {
     "x": {"field": "T", "type": "quantitative", "scale": {"domain": [0, 8]}, "axis": {"orient": "top", "labels": false, "title": null, "values": [0, 2, 4, 6, 8]}},
     "y": {"field": "v", "type": "quantitative", "scale": {"domain": [0, 3]}, "axis": {"orient": "right", "labels": false, "title": null, "values": [0, 1, 2, 3]}}}},
   {"mark": {"type": "line", "strokeWidth": 3},
    "encoding": {
     "x": {"field": "T", "type": "quantitative", "scale": {"domain": [0, 8]}, "axis": {"orient": "bottom", "title": "T (sec)", "values": [0, 2, 4, 6, 8]}},
     "y": {"field": "v", "type": "quantitative", "scale": {"domain": [0, 3]}, "axis": {"orient": "left", "title": "Sd (m)", "values": [0, 1, 2, 3]}},
     "color": {"field": "s", "type": "nominal",
       "scale": {"domain": ["MCE, ASCE 7-10", "DE, ASCE 7-10", "FN", "FP", "Principal", "Normal to Principal", "Vertical"], "range": ["#000000", "#000000", "#FFA500", "#33CC33", "#FF0000", "#0000FF", "#BC8F8F"]}, "legend": null},
     "strokeDash": {"field": "s", "type": "nominal", "legend": null,
       "scale": {"domain": ["MCE, ASCE 7-10", "DE, ASCE 7-10", "FN", "FP", "Principal", "Normal to Principal", "Vertical"], "range": [[1, 0], [9, 5], [1, 0], [1, 0], [1, 0], [1, 0], [1, 0]]}}}}
  ],
  "resolve": {"axis": {"x": "independent", "y": "independent"}}}
]
}
